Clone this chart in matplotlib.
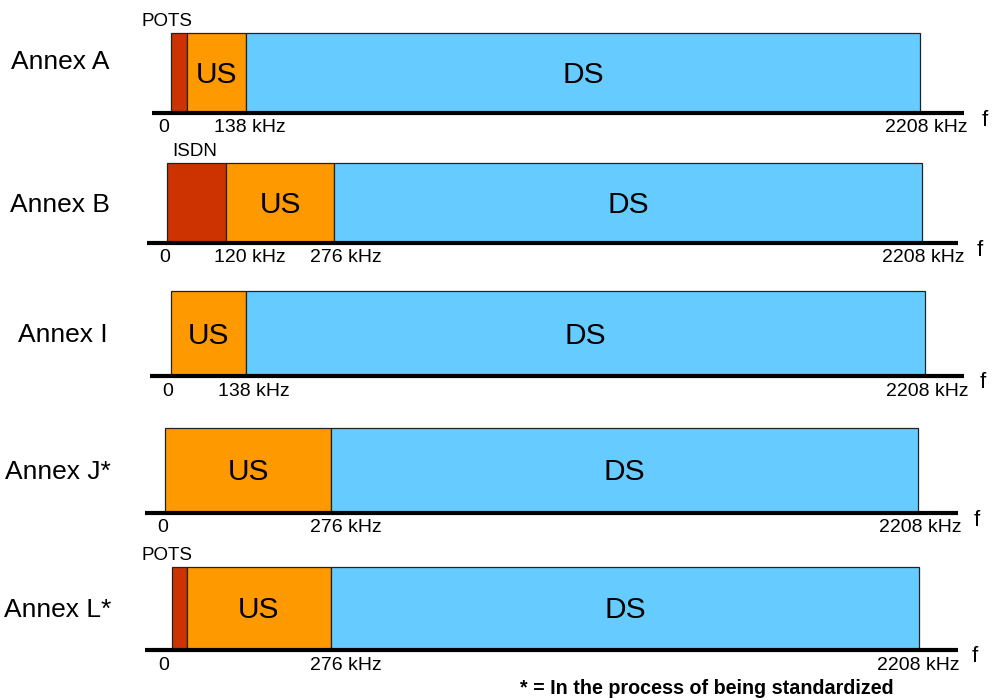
import matplotlib
matplotlib.use('Agg')
import matplotlib.pyplot as plt

# -----------------------------------------------------------------------------
# data: ADSL annex band plans (schematic, not to scale)
# -----------------------------------------------------------------------------
annex_names = ['Annex A', 'Annex B', 'Annex I', 'Annex J*', 'Annex L*']

band_names = [['POTS', 'US', 'DS'],
              ['ISDN', 'US', 'DS'],
              ['US', 'DS'],
              ['US', 'DS'],
              ['POTS', 'US', 'DS']]

# band boundaries along the drawn frequency axis (diagram units)
band_edges = [[171, 187, 246, 920],
              [167, 226, 334, 922],
              [171, 246, 925],
              [165, 331, 918],
              [172, 187, 331, 919]]

freq_labels = [['0', '138 kHz', '2208 kHz'],
               ['0', '120 kHz', '276 kHz', '2208 kHz'],
               ['0', '138 kHz', '2208 kHz'],
               ['0', '276 kHz', '2208 kHz'],
               ['0', '276 kHz', '2208 kHz']]

footnote = '* = In the process of being standardized'

# -----------------------------------------------------------------------------
# layout
# -----------------------------------------------------------------------------
freq_label_x = [[164, 250, 926],
                [165, 250, 346, 923],
                [168, 254, 927],
                [163, 346, 920],
                [164, 346, 918]]
row_top = [33, 163, 291, 428, 567]
row_base = [112, 242, 375, 512, 649]
axis_span = [(152, 964), (147, 958), (150, 964), (145, 958), (145, 958)]
f_x = [985, 980, 983, 977, 975]
annex_xy = [(60, 62), (60, 205), (63, 335), (58, 472), (58, 610)]
narrow_label_x = [167, 195, None, None, 167]

colors = {'POTS': '#CC3300', 'ISDN': '#CC3300',
          'US': '#FF9900', 'DS': '#66CCFF'}

plt.rcParams['font.family'] = ['Liberation Sans', 'DejaVu Sans']

fig = plt.figure(figsize=(9.92, 7.0), dpi=100)
ax = fig.add_axes([0, 0, 1, 1])
ax.set_xlim(0, 992)
ax.set_ylim(700, 0)
ax.axis('off')

for i, name in enumerate(annex_names):
    top, base = row_top[i], row_base[i]
    edges = band_edges[i]
    for j, band in enumerate(band_names[i]):
        left, right = edges[j], edges[j + 1]
        ax.bar(left, base - top, width=right - left, bottom=top,
               align='edge', color=colors[band], edgecolor='#222222',
               linewidth=0.9, zorder=2)
        if band in ('US', 'DS'):
            ax.text((left + right) / 2, (top + base) / 2 + 2.5, band,
                    fontsize=21.5, ha='center', va='center', zorder=3)
        elif narrow_label_x[i] is not None:
            ax.text(narrow_label_x[i], top - 11, band, fontsize=13.5,
                    ha='center', va='center')

    # frequency axis
    x0, x1 = axis_span[i]
    ax.plot([x0, x1], [base + 1, base + 1], color='black', linewidth=3,
            solid_capstyle='butt', zorder=4)
    ax.text(f_x[i], base + 8, 'f', fontsize=16, ha='center', va='center')
    for lab, lx in zip(freq_labels[i], freq_label_x[i]):
        ax.text(lx, base + 16, lab, fontsize=14, ha='center', va='center')

    # annex name
    ax.text(annex_xy[i][0], annex_xy[i][1], name, fontsize=19,
            ha='center', va='center')

ax.text(707, 688, footnote, fontsize=14.2, fontweight='bold',
        ha='center', va='center')

fig.savefig('out.png', dpi=100)
